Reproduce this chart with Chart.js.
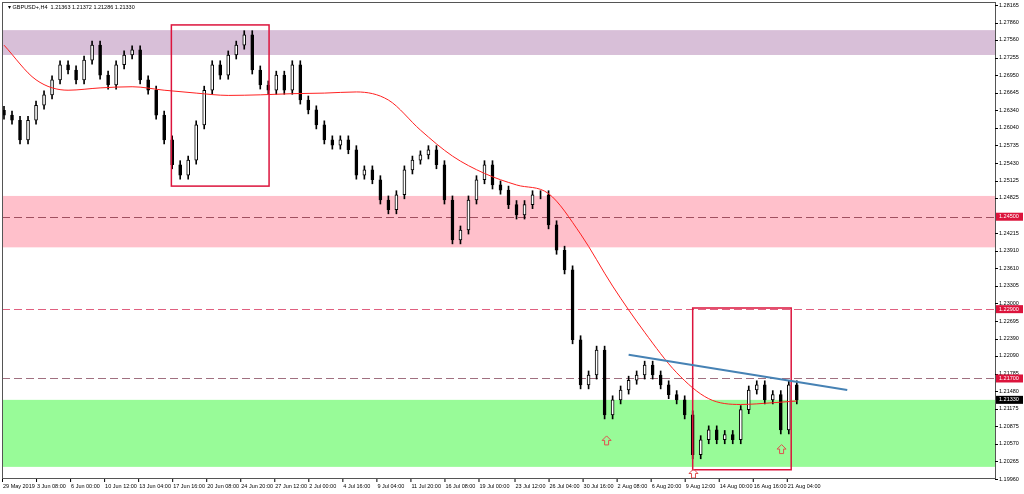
<!DOCTYPE html>
<html><head><meta charset="utf-8">
<script src="https://cdn.jsdelivr.net/npm/chart.js@4"></script>
<style>html,body{margin:0;padding:0;background:#fff}#w{width:1024px;height:494px}</style>
</head><body><div id="w"><canvas id="c"></canvas></div>
<script>
const closes=[1.2626,1.2617,1.2583,1.2617,1.2643,1.2661,1.2687,1.2713,1.2704,1.2687,1.2721,1.2747,1.2695,1.2678,1.2713,1.2730,1.2739,1.2687,1.2669,1.2626,
1.2583,1.2540,1.2522,1.2548,1.2609,1.2669,1.2713,1.2695,1.2730,1.2747,1.2765,1.2704,1.2678,1.2669,1.2695,1.2669,1.2713,1.2652,1.2635,1.2609,
1.2583,1.2574,1.2583,1.2566,1.2522,1.2531,1.2514,1.2479,1.2462,1.2488,1.2531,1.2548,1.2557,1.2566,1.2540,1.2479,1.2410,1.2427,1.2479,1.2514,
1.2540,1.2505,1.2496,1.2471,1.2453,1.2471,1.2488,1.2488,1.2436,1.2392,1.2358,1.2237,1.2159,1.2176,1.2219,1.2107,1.2133,1.2150,1.2167,1.2176,
1.2193,1.2176,1.2159,1.2142,1.2133,1.2107,1.2038,1.2064,1.2081,1.2064,1.2073,1.2064,1.2116,1.2150,1.2159,1.2133,1.2142,1.2081,1.2159,1.2133];
const firstOpen=1.2634;
const wick=0.0007;
const maIdx=[0,4,8,12,16,20,24,28,32,36,40,44,48,52,56,60,64,68,72,76,80,84,88,92,96,99];
const maVal=[1.2747,1.2687,1.2669,1.2673,1.2675,1.2669,1.2664,1.2660,1.2661,1.2663,1.2664,1.2666,1.2652,1.2600,1.2555,1.2525,1.2505,1.2490,1.2420,1.2330,1.2250,1.2180,1.2135,1.2125,1.2128,1.2131];
const bands=[{lo:1.2730,hi:1.2773,color:'rgba(216,191,216,1)'},{lo:1.2397,hi:1.2486,color:'rgba(255,192,203,1)'},{lo:1.2017,hi:1.2133,color:'rgba(152,251,152,1)'}];
const hlines=[1.2450,1.2290,1.2170];
const boxes=[{x0:20.9,x1:33.1,hi:1.2782,lo:1.2503},{x0:86,x1:98.3,hi:1.2292,lo:1.2012}];
const trend={x0:78,y0:1.2211,x1:105.3,y1:1.2150};
const arrows=[{x:75.25,p:1.2055},{x:97.1,p:1.2040},{x:86.1,p:1.1996}];
const yTicks=[1.28165,1.27860,1.27560,1.27255,1.26950,1.26645,1.26340,1.26040,1.25735,1.25430,1.25125,1.24825,1.24215,1.23910,1.23610,1.23305,1.23000,1.22695,1.22390,1.22090,1.21785,1.21480,1.21175,1.20875,1.20570,1.20265,1.19960];
const xLabels=['29 May 2019','3 Jun 08:00','6 Jun 00:00','10 Jun 12:00','13 Jun 04:00','17 Jun 16:00','20 Jun 08:00','24 Jun 20:00','27 Jun 12:00','2 Jul 00:00','4 Jul 16:00','9 Jul 04:00','11 Jul 20:00','16 Jul 08:00','19 Jul 00:00','23 Jul 12:00','26 Jul 04:00','30 Jul 16:00','2 Aug 08:00','6 Aug 20:00','9 Aug 12:00','14 Aug 00:00','16 Aug 16:00','21 Aug 04:00'];
const xLabelPos=[-0.25,4,8.25,12.5,16.75,21,25.25,29.5,33.75,38,42.25,46.5,50.75,55,59.25,63.75,68,72.25,76.5,80.75,85,89.25,93.5,97.75];
const tagLabels=[{p:1.2450,t:'1.24500',c:'#dc143c'},{p:1.2290,t:'1.22900',c:'#dc143c'},{p:1.2170,t:'1.21700',c:'#dc143c'},{p:1.2133,t:'1.21330',c:'#000'}];

const opens=closes.map((c,i)=>i===0?firstOpen:closes[i-1]);
const bodies=closes.map((c,i)=>({x:i,y:[opens[i],c]}));
const wicks=closes.map((c,i)=>({x:i,y:[Math.min(opens[i],c)-wick,Math.max(opens[i],c)+wick]}));
const ma=maIdx.map((x,i)=>({x,y:maVal[i]}));
const FONT='5.5px "Liberation Sans"';

const deco={id:'deco',
beforeDatasetsDraw(ch){const {ctx,chartArea:a,scales:{x,y}}=ch;ctx.save();
 bands.forEach(b=>{ctx.fillStyle=b.color;ctx.fillRect(a.left,y.getPixelForValue(b.hi),a.right-a.left,y.getPixelForValue(b.lo)-y.getPixelForValue(b.hi));});
 ctx.setLineDash([8,4]);ctx.lineWidth=1;
 hlines.forEach((h,i)=>{ctx.strokeStyle=i===0?'#a05060':(i===1?'#e06080':'#a07080');const yy=Math.round(y.getPixelForValue(h))+0.5;ctx.beginPath();ctx.moveTo(a.left,yy);ctx.lineTo(a.right,yy);ctx.stroke();});
 ctx.restore();},
afterDatasetsDraw(ch){const {ctx,chartArea:a,scales:{x,y}}=ch;ctx.save();
 ctx.strokeStyle='#dc143c';ctx.lineWidth=1.5;
 boxes.forEach(b=>{const x0=x.getPixelForValue(b.x0),x1=x.getPixelForValue(b.x1),y0=y.getPixelForValue(b.hi),y1=y.getPixelForValue(b.lo);ctx.strokeRect(x0,y0,x1-x0,y1-y0);});
 ctx.strokeStyle='#4682b4';ctx.lineWidth=2;ctx.beginPath();ctx.moveTo(x.getPixelForValue(trend.x0),y.getPixelForValue(trend.y0));ctx.lineTo(x.getPixelForValue(trend.x1),y.getPixelForValue(trend.y1));ctx.stroke();
 ctx.strokeStyle='#e05050';ctx.lineWidth=1;
 arrows.forEach(r=>{const cx=x.getPixelForValue(r.x),cy=Math.min(y.getPixelForValue(r.p),a.bottom-1);ctx.beginPath();ctx.moveTo(cx,cy-9);ctx.lineTo(cx+4.5,cy-4.5);ctx.lineTo(cx+2,cy-4.5);ctx.lineTo(cx+2,cy);ctx.lineTo(cx-2,cy);ctx.lineTo(cx-2,cy-4.5);ctx.lineTo(cx-4.5,cy-4.5);ctx.closePath();ctx.stroke();});
 ctx.strokeStyle='#555';ctx.lineWidth=1;ctx.strokeRect(a.left+0.5,a.top-2.5,a.right-a.left,a.bottom-a.top+2);
 ctx.fillStyle='#000';ctx.font=FONT;ctx.textBaseline='top';ctx.textAlign='left';
 xLabels.forEach((t,i)=>{const px=x.getPixelForValue(xLabelPos[i]);ctx.fillText(t,px+1,a.bottom+5);ctx.fillRect(px,a.bottom,1,3);});
 ctx.fillText('\u25BE GBPUSD+,H4  1.21363 1.21372 1.21286 1.21330',8,5);
 ctx.textBaseline='middle';
 yTicks.forEach(v=>{const yy=y.getPixelForValue(v);ctx.fillRect(a.right,Math.round(yy),3,1);ctx.fillText(v.toFixed(5),a.right+4,yy);});
 tagLabels.forEach(g=>{const yy=y.getPixelForValue(g.p);ctx.fillStyle=g.c;ctx.fillRect(a.right+1,yy-4,27,8);ctx.fillStyle='#fff';ctx.fillText(g.t,a.right+4,yy);});
 ctx.restore();}};

new Chart(document.getElementById('c'),{
 type:'bar',
 data:{datasets:[
  {type:'line',data:ma,borderColor:'#ff2020',borderWidth:1,pointRadius:0,cubicInterpolationMode:'monotone',spanGaps:true,order:0},
  {data:wicks,backgroundColor:'#000',barThickness:1,grouped:false,order:2},
  {data:bodies,backgroundColor:closes.map((c,i)=>c>=opens[i]?'#fff':'#000'),borderColor:'#000',borderWidth:1,borderSkipped:false,barThickness:3,grouped:false,order:1}
 ]},
 options:{responsive:true,maintainAspectRatio:false,animation:false,
  layout:{padding:{left:2,top:5,right:0,bottom:0}},
  plugins:{legend:{display:false},tooltip:{enabled:false}},
  scales:{
   x:{type:'linear',min:-0.25,max:123.75,offset:false,grid:{display:false},border:{display:false},ticks:{display:false},afterFit(s){s.height=15;}},
   y:{position:'right',min:1.19960,max:1.28165,grid:{display:false},border:{display:false},
    afterFit(s){s.width=29;},ticks:{display:false}}
  }},
 plugins:[deco]});
</script></body></html>
